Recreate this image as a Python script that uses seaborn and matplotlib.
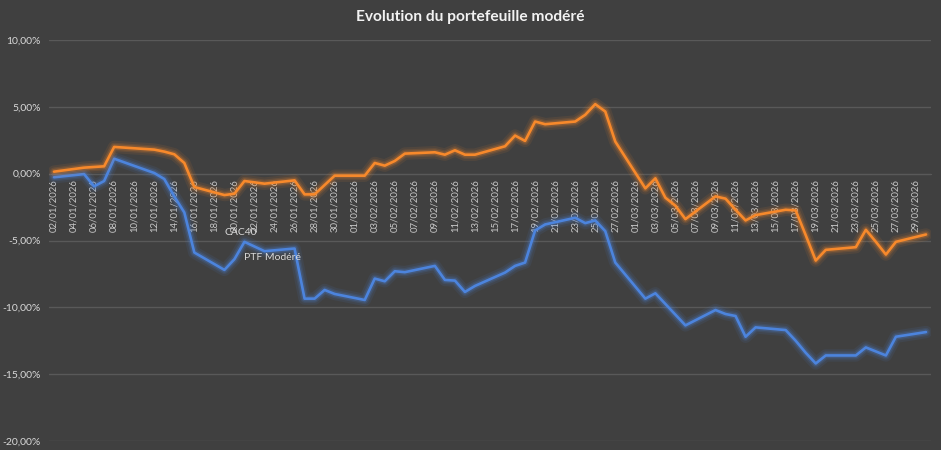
import pandas as pd
import numpy as np
import matplotlib
matplotlib.use("Agg")
import matplotlib.pyplot as plt
import matplotlib.dates as mdates
import matplotlib.patheffects as pe
from matplotlib.ticker import FuncFormatter
import seaborn as sns

# business days covered by the chart
dates = pd.bdate_range("2026-01-02", "2026-03-30")

# PTF Modéré (orange), in %
ptf = [0.15, 0.45, 0.5, 0.55, 2.0, 1.95, 1.8, 1.65, 1.45, 0.8, -1.0, -1.6, -1.5, -0.55, -0.65, -0.75, -0.5, -1.55, -1.55, -0.85, -0.15,
       -0.15, 0.8, 0.6, 0.95, 1.5, 1.6, 1.42, 1.75, 1.42, 1.42, 2.05, 2.85, 2.45, 3.9, 3.7, 3.9, 4.4, 5.2, 4.65, 2.4,
       -1.1, -0.35, -1.8, -2.4, -3.4, -1.7, -1.87, -2.7, -3.5, -3.1, -2.7, -2.75, -4.6, -6.5, -5.7, -5.5, -4.2, -5.1, -6.05, -5.1, -4.55]

# CAC40 (blue), in %
cac40 = [-0.27, -0.03, -0.95, -0.55, 1.12, 0.85, 0.05, -0.4, -1.7, -2.9, -5.9, -7.2, -6.4, -5.1, -5.45, -5.8, -5.6, -9.35, -9.35, -8.7, -9.0,
         -9.45, -7.85, -8.05, -7.3, -7.37, -6.9, -7.95, -8.0, -8.85, -8.4, -7.4, -6.9, -6.65, -4.25, -3.8, -3.3, -3.7, -3.5, -4.3, -6.65,
         -9.35, -8.95, -9.75, -10.55, -11.35, -10.2, -10.5, -10.65, -12.2, -11.5, -11.7, -12.5, -13.4, -14.2, -13.6, -13.6, -13.0, -13.3, -13.6, -12.2, -11.85]

y_ticks = [-20, -15, -10, -5, 0, 5, 10]

df = pd.DataFrame({"Date": dates, "PTF Modéré": np.array(ptf) / 100, "CAC40": np.array(cac40) / 100})

bg = "#404040"
grid_c = "#595959"
txt_c = "#d9d9d9"

sns.set_style("dark")
plt.rcParams["font.family"] = ["Lato", "DejaVu Sans"]

fig = plt.figure(figsize=(9.41, 4.5), dpi=100, facecolor=bg)
ax = fig.add_axes([49 / 941, 1 - 441 / 450, 882 / 941, 401 / 450])
ax.set_facecolor(bg)

orange = "#F7892B"
blue = "#4C84DD"

for col, c in [("CAC40", blue), ("PTF Modéré", orange)]:
    sns.lineplot(data=df, x="Date", y=col, ax=ax, color=c, linewidth=1.9, zorder=3,
                 path_effects=[pe.Stroke(linewidth=9, foreground=c, alpha=0.09),
                               pe.Stroke(linewidth=6, foreground=c, alpha=0.13),
                               pe.Stroke(linewidth=4, foreground=c, alpha=0.22),
                               pe.Normal()])

ax.set_ylim(-0.20, 0.10)
ax.set_yticks([v / 100 for v in y_ticks])
ax.yaxis.set_major_formatter(FuncFormatter(lambda v, p: f"{v * 100:.2f}%".replace(".", ",")))
ax.set_xlim(dates[0] - pd.Timedelta(hours=12), dates[-1] + pd.Timedelta(hours=12))
ax.set_xticks(pd.date_range("2026-01-02", "2026-03-29", freq="2D"))
ax.xaxis.set_major_formatter(mdates.DateFormatter("%d/%m/%Y"))

ax.grid(axis="y", color=grid_c, linewidth=1)
ax.grid(axis="x", visible=False)
ax.set_axisbelow(True)
for s in ["top", "right", "left"]:
    ax.spines[s].set_visible(False)
ax.spines["bottom"].set_position(("data", 0))
ax.spines["bottom"].set_color(grid_c)
ax.tick_params(axis="y", length=0, pad=6, labelsize=7.5, labelcolor=txt_c)
ax.tick_params(axis="x", length=0, pad=4, labelsize=6.9, labelcolor="#c8c8c8", rotation=90)
for lab in ax.get_xticklabels():
    lab.set_va("top")
    lab.set_ha("center")
ax.set_xlabel("")
ax.set_ylabel("")
if ax.get_legend():
    ax.get_legend().remove()

ax.text(pd.Timestamp("2026-01-20 14:00"), -0.044, "CAC40", color=txt_c, fontsize=7.5, ha="center", va="center")
ax.text(pd.Timestamp("2026-01-23 19:00"), -0.0627, "PTF Modéré", color=txt_c, fontsize=7.5, ha="center", va="center")

fig.text(470 / 941, 1 - 17 / 450, "Evolution du portefeuille modéré", color="#f2f2f2",
         fontsize=11.2, fontweight="bold", ha="center", va="center")

fig.savefig("out.png", dpi=100, facecolor=bg)
